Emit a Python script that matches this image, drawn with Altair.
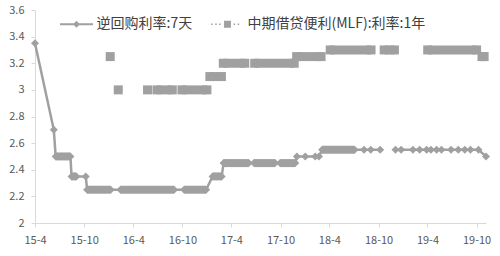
import altair as alt
import pandas as pd

GRAY = "#a0a0a0"
FONT = "Noto Sans CJK SC"

series_names = ["逆回购利率:7天", "中期借贷便利(MLF):利率:1年"]

# 7-day reverse repo: line vertices (markers) and segment ids (line break between segments)
repo_dates = [
    "2015-04-01", "2015-06-10", "2015-06-17", "2015-08-11", "2015-08-15",
    "2015-09-02", "2015-10-07", "2015-10-12", "2016-01-08", "2016-02-13",
    "2016-08-31", "2016-10-07", "2016-12-28", "2017-01-21", "2017-02-24",
    "2017-03-03", "2017-06-05", "2017-06-24", "2017-09-11", "2017-09-29",
    "2017-11-25", "2017-12-01", "2018-01-01", "2018-02-07", "2018-02-21",
    "2018-03-05", "2018-07-04", "2018-08-08", "2018-09-02", "2018-10-07",
    "2018-12-03", "2018-12-24", "2019-02-06", "2019-03-03", "2019-03-29",
    "2019-04-14", "2019-05-05", "2019-05-23", "2019-06-28", "2019-07-25",
    "2019-08-18", "2019-09-08", "2019-10-08", "2019-11-05",
]
repo_values = [
    3.35, 2.70, 2.50, 2.50, 2.35,
    2.35, 2.35, 2.25, 2.25, 2.25,
    2.25, 2.25, 2.25, 2.35, 2.35,
    2.45, 2.45, 2.45, 2.45, 2.45,
    2.45, 2.50, 2.50, 2.50, 2.50,
    2.55, 2.55, 2.55, 2.55, 2.55,
    2.55, 2.55, 2.55, 2.55, 2.55,
    2.55, 2.55, 2.55, 2.55, 2.55,
    2.55, 2.55, 2.55, 2.50,
]
repo_seg = [1] * 30 + [2] * 14

# dense runs of daily reverse-repo operations
repo_band_start = ["2015-06-17", "2015-08-15", "2015-10-12", "2016-02-13", "2016-10-07",
                   "2017-01-21", "2017-03-03", "2017-06-24", "2017-09-29", "2018-03-05"]
repo_band_end = ["2015-08-11", "2015-09-02", "2016-01-08", "2016-08-31", "2016-12-28",
                 "2017-02-24", "2017-06-05", "2017-09-11", "2017-11-25", "2018-07-04"]
repo_band_value = [2.50, 2.35, 2.25, 2.25, 2.25, 2.35, 2.45, 2.45, 2.45, 2.55]

# MLF 1-year: single operations and dense runs
mlf_dates = ["2016-01-06", "2016-02-05", "2016-05-24"]
mlf_values = [3.25, 3.00, 3.00]
mlf_band_start = ["2016-06-28", "2016-09-29", "2017-01-11", "2017-03-02", "2017-06-27",
                  "2017-11-30", "2018-04-04", "2018-10-22", "2019-04-02", "2019-10-21"]
mlf_band_end = ["2016-08-24", "2016-12-31", "2017-02-23", "2017-05-21", "2017-11-21",
                "2018-03-01", "2018-09-03", "2018-11-29", "2019-10-01", "2019-10-29"]
mlf_band_value = [3.00, 3.00, 3.10, 3.20, 3.20, 3.25, 3.30, 3.30, 3.30, 3.25]

y_ticks = [2.0, 2.2, 2.4, 2.6, 2.8, 3.0, 3.2, 3.4, 3.6]
x_tick_months = [(2015, 4), (2015, 10), (2016, 4), (2016, 10), (2017, 4),
                 (2017, 10), (2018, 4), (2018, 10), (2019, 4), (2019, 10)]

repo_df = pd.DataFrame({"date": repo_dates, "value": repo_values, "seg": repo_seg})
repo_band_df = pd.DataFrame({"start": repo_band_start, "end": repo_band_end, "value": repo_band_value})
mlf_band_df = pd.DataFrame({"start": mlf_band_start, "end": mlf_band_end, "value": mlf_band_value})
mlf_pts_df = pd.DataFrame({
    "date": mlf_dates + mlf_band_start + mlf_band_end,
    "value": mlf_values + mlf_band_value + mlf_band_value,
})
legend_df = pd.DataFrame({"series": series_names})

x_scale = alt.Scale(type="utc",
                    domain=[alt.DateTime(year=2015, month=4, date=1, utc=True),
                            alt.DateTime(year=2019, month=11, date=5, utc=True)])
y_scale = alt.Scale(domain=[2, 3.6], nice=False, zero=False)

x_axis = alt.Axis(
    values=[alt.DateTime(year=yy, month=mm, date=1, utc=True) for yy, mm in x_tick_months],
    labelExpr="utcFormat(datum.value, '%y-%-m')", title=None, grid=False,
    domainColor="#d9d9d9", tickColor="#d9d9d9", tickSize=4,
    labelFont=FONT, labelFontSize=11, labelColor="#595959", labelPadding=7,
    labelFlush=False, labelOverlap=False,
)
y_axis = alt.Axis(
    values=y_ticks, format=".1~f", title=None, grid=False,
    domainColor="#d9d9d9", tickColor="#d9d9d9", tickSize=4,
    labelFont=FONT, labelFontSize=11, labelColor="#595959", labelPadding=7,
)

base_x = alt.X("date:T", scale=x_scale, axis=x_axis)
base_y = alt.Y("value:Q", scale=y_scale, axis=y_axis)

mlf_bands = alt.Chart(mlf_band_df).mark_rule(strokeWidth=9, color=GRAY, strokeCap="butt").encode(
    x=alt.X("start:T", scale=x_scale, axis=x_axis), x2="end:T",
    y=alt.Y("value:Q", scale=y_scale, axis=y_axis),
)
mlf_pts = alt.Chart(mlf_pts_df).mark_point(shape="square", filled=True, size=81, color=GRAY, opacity=1).encode(
    x=base_x, y=base_y,
)
repo_line = alt.Chart(repo_df).mark_line(strokeWidth=2.5, color=GRAY).encode(
    x=base_x, y=base_y, detail="seg:N", order="date:T",
)
repo_bands = alt.Chart(repo_band_df).mark_rule(strokeWidth=8, color=GRAY, strokeCap="butt").encode(
    x=alt.X("start:T", scale=x_scale, axis=x_axis), x2="end:T",
    y=alt.Y("value:Q", scale=y_scale, axis=y_axis),
)
repo_pts = alt.Chart(repo_df).mark_point(shape="diamond", filled=True, size=64, color=GRAY, opacity=1).encode(
    x=base_x, y=base_y,
)

path_repo = "M-1,-0.06L1,-0.06L1,0.06L-1,0.06Z M-0.21,0L0,-0.21L0.21,0L0,0.21Z"
dots = ""
for c in [-0.94, -0.70, -0.46, 0.42, 0.66]:
    dots += "M%.3f,-0.045L%.3f,-0.045L%.3f,0.045L%.3f,0.045Z " % (c - 0.045, c + 0.045, c + 0.045, c - 0.045)
path_mlf = dots + "M-0.21,-0.21L0.21,-0.21L0.21,0.21L-0.21,0.21Z"

legend_layer = alt.Chart(legend_df).mark_point(filled=True, opacity=0, color=GRAY).encode(
    shape=alt.Shape(
        "series:N",
        scale=alt.Scale(domain=series_names, range=[path_repo, path_mlf]),
        legend=alt.Legend(
            title=None, orient="none", legendX=25, legendY=-2.5, direction="horizontal",
            symbolSize=1089, symbolOpacity=1, symbolFillColor=GRAY, symbolStrokeWidth=0,
            labelFont=FONT, labelFontSize=14, labelColor="#404040", labelLimit=400,
            labelOffset=3.5, columnPadding=18, padding=0,
        ),
    )
)

chart = alt.layer(mlf_bands, mlf_pts, repo_line, repo_bands, repo_pts, legend_layer).properties(
    width=451, height=213,
    padding={"left": 35, "top": 10, "right": 14, "bottom": 33},
    autosize=alt.AutoSizeParams(type="none"),
    background="white",
).configure_view(strokeWidth=0)

chart.save("out.html", embed_options={"renderer": "svg", "actions": False})
